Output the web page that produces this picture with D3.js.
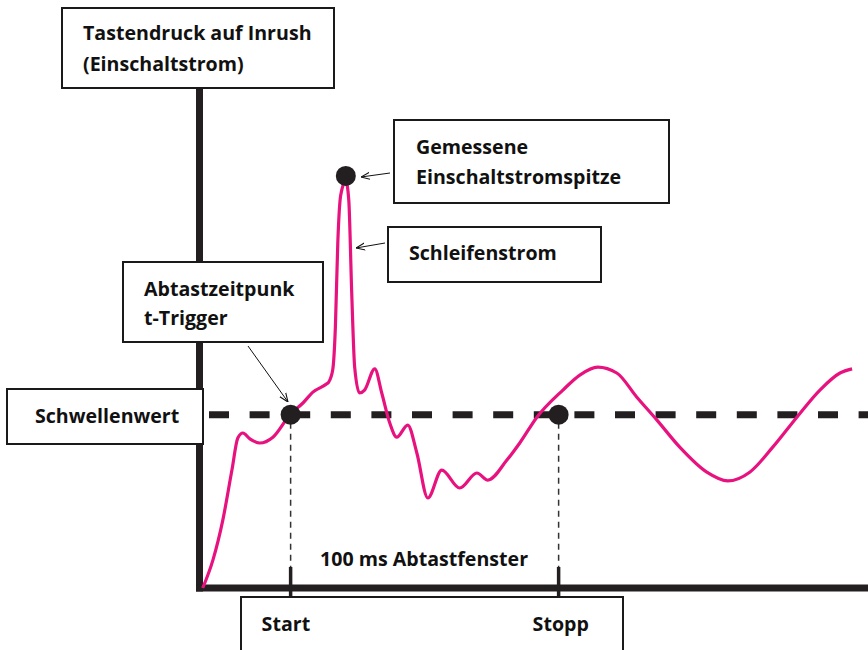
<!DOCTYPE html>
<html>
<head>
<meta charset="utf-8">
<script src="https://cdn.jsdelivr.net/npm/d3@7"></script>
<style>
  body { margin: 0; background: #fff; }
  svg text { font-family: "Open Sans", Lato, sans-serif; font-weight: bold; fill: #111; }
</style>
</head>
<body>
<svg id="chart"></svg>
<script>
// Schleifenstrom: Zeit (ms, 0 = Start) und Strom (willkürliche Einheit)
const curveT = [-32.8, -29.0, -25.3, -21.9, -19.7, -17.8, -15.2, -11.5, -6.6, 0, 4.6, 8.3, 13.5, 14.2,
  15.7, 16.7, 17.6, 18.7, 20.6, 21.7, 22.8, 23.9, 25.7, 27.6, 31.4, 34.0, 37.0, 39.6, 43.7, 47.1,
  51.2, 56.4, 63.1, 69.5, 73.6, 80.7, 85.5, 91.9, 101.6, 107.9, 114.6, 121.7, 129.2, 136.7, 145.2,
  155.3, 163.1, 171.3, 179.9, 188.9, 197.5, 205.0, 209.5];
const curveI = [0, 6.7, 16.3, 28.3, 36.0, 37.2, 35.8, 34.8, 36.2, 41.8, 44.4, 47.0, 49.0, 49.4,
  52.3, 62.6, 82.8, 94.3, 97.7, 93.1, 70.8, 53.0, 46.8, 47.5, 52.6, 46.8, 39.6, 36.2, 39.1, 32.4,
  21.6, 28.3, 24.0, 27.6, 25.9, 30.7, 34.8, 41.0, 47.5, 51.1, 53.0, 51.6, 45.8, 40.3, 33.8,
  27.8, 25.7, 27.8, 33.8, 41.0, 47.5, 51.6, 52.6];

const threshold = 41.6;
const windowTicks = [0, 100];            // Start / Stopp
const windowLabels = ["Start", "Stopp"];
const peakPoint = [20.6, 98.9];

const width = 868, height = 650;
const magenta = "#e8127f";
const ink = "#231f20";

const svg = d3.select("#chart")
  .attr("width", width)
  .attr("height", height)
  .attr("viewBox", [0, 0, width, height]);

const x = d3.scaleLinear().domain([-34, 216]).range([199.5, 869.5]);
const y = d3.scaleLinear().domain([0, 120]).range([588, 88]);

// Achsen
svg.append("line")
  .attr("x1", x(-34)).attr("x2", x(-34))
  .attr("y1", y(120)).attr("y2", y(0) + 3.5)
  .attr("stroke", ink).attr("stroke-width", 7);
svg.append("line")
  .attr("x1", x(-34) - 3.5).attr("x2", width)
  .attr("y1", y(0)).attr("y2", y(0))
  .attr("stroke", ink).attr("stroke-width", 7);

// Schwellenwert
svg.append("line")
  .attr("x1", 209).attr("x2", width)
  .attr("y1", y(threshold)).attr("y2", y(threshold))
  .attr("stroke", ink).attr("stroke-width", 7)
  .attr("stroke-dasharray", "20 20.6");

// Start/Stopp Markierungen
svg.append("g")
  .selectAll("line")
  .data(windowTicks)
  .join("line")
  .attr("x1", d => x(d)).attr("x2", d => x(d))
  .attr("y1", y(threshold) + 8).attr("y2", 567)
  .attr("stroke", "#333").attr("stroke-width", 1.5)
  .attr("stroke-dasharray", "6 5");
svg.append("g")
  .selectAll("line")
  .data(windowTicks)
  .join("line")
  .attr("x1", d => x(d)).attr("x2", d => x(d))
  .attr("y1", 567).attr("y2", 597)
  .attr("stroke", ink).attr("stroke-width", 3.5);

// Kurve
const line = d3.line()
  .x((d, i) => x(curveT[i]))
  .y(d => y(d))
  .curve(d3.curveMonotoneX);
svg.append("path")
  .datum(curveI)
  .attr("fill", "none")
  .attr("stroke", magenta)
  .attr("stroke-width", 3.2)
  .attr("stroke-linejoin", "round")
  .attr("d", line);

// Punkte
const dots = [[0, threshold], [100, threshold], peakPoint];
svg.append("g")
  .selectAll("circle")
  .data(dots)
  .join("circle")
  .attr("cx", d => x(d[0]))
  .attr("cy", d => y(d[1]))
  .attr("r", 10)
  .attr("fill", ink);

// Textkästen
const fs = 19.6;
function box(x0, y0, w, h, lines, tx, ty, lh) {
  svg.append("rect")
    .attr("x", x0).attr("y", y0).attr("width", w).attr("height", h)
    .attr("fill", "#fff").attr("stroke", "#1a1a1a").attr("stroke-width", 2);
  const t = svg.append("text").attr("font-size", fs);
  lines.forEach((s, i) => {
    t.append("tspan").attr("x", tx).attr("y", ty + i * lh).text(s);
  });
}
box(62, 8, 272, 80, ["Tastendruck auf Inrush", "(Einschaltstrom)"], 83, 40, 31);
box(394, 120, 275, 83, ["Gemessene", "Einschaltstromspitze"], 416, 154, 30);
box(388, 227, 213, 55, ["Schleifenstrom"], 409, 260, 0);
box(123, 262, 200, 80, ["Abtastzeitpunk", "t-Trigger"], 144, 296, 29);
box(7, 389, 196, 55, ["Schwellenwert"], 35, 423, 0);
box(241, 597, 382, 70, [], 0, 0, 0);

svg.append("g")
  .selectAll("text")
  .data(windowTicks)
  .join("text")
  .attr("x", (d, i) => x(d) + (i === 0 ? -29 : -26))
  .attr("y", 631)
  .attr("font-size", fs)
  .text((d, i) => windowLabels[i]);

svg.append("text")
  .attr("x", 320).attr("y", 566)
  .attr("font-size", fs)
  .text("100 ms Abtastfenster");

// Pfeile
svg.append("defs").append("marker")
  .attr("id", "arr")
  .attr("viewBox", "0 0 10 10")
  .attr("refX", 10).attr("refY", 5)
  .attr("markerWidth", 9).attr("markerHeight", 9)
  .attr("markerUnits", "userSpaceOnUse")
  .attr("orient", "auto")
  .append("path")
  .attr("d", "M0,1 L10,5 L0,9")
  .attr("fill", "none").attr("stroke", "#111").attr("stroke-width", 1.2);

const arrows = [
  [390, 173, 361, 177],
  [385, 243, 356, 248],
  [248, 346, 288, 402]
];
svg.append("g")
  .selectAll("line")
  .data(arrows)
  .join("line")
  .attr("x1", d => d[0]).attr("y1", d => d[1])
  .attr("x2", d => d[2]).attr("y2", d => d[3])
  .attr("stroke", "#111").attr("stroke-width", 1)
  .attr("marker-end", "url(#arr)");
</script>
</body>
</html>
